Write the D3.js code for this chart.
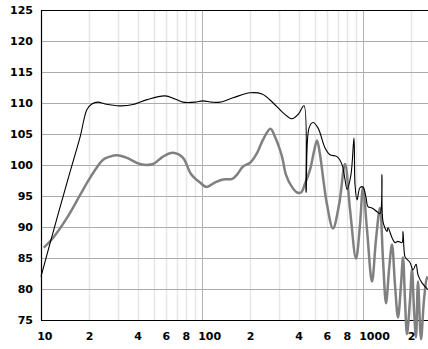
<!DOCTYPE html>
<html>
<head>
<meta charset="utf-8">
<script src="https://d3js.org/d3.v7.min.js"></script>
<style>
    body { margin: 0; background: #fff; }
    svg { display: block; }
    .lbl { font-family: "DejaVu Sans", Verdana, sans-serif; font-size: 11px; font-weight: bold; fill: #000; }
</style>
</head>
<body>
<svg id="chart" width="428" height="349"></svg>
<script>
    // y ticks (dB) and x tick labels
    const dbTicks = [75, 80, 85, 90, 95, 100, 105, 110, 115, 120, 125];
    const freqTicks = [10, 20, 40, 60, 80, 100, 200, 400, 600, 800, 1000, 2000];
    const freqLabels = ["10", "2", "4", "6", "8", "100", "2", "4", "6", "8", "1000", "2"];
    const gridFreqs = [20, 30, 40, 50, 60, 70, 80, 90, 200, 300, 400, 500, 600, 700, 800, 900, 2000];
    const decadeFreqs = [100, 1000];

    // black thin curve
    const upperFreq = [10, 12.4, 15.1, 17.5, 19.3, 20.7, 22.6, 25, 31, 37.3, 45.5, 58.9, 68, 76.2, 90.5,
        101, 115, 129, 156, 199, 236, 276, 318, 362, 395, 430, 443, 462, 489, 526,
        581, 624, 690, 741, 773, 796, 842, 879, 892, 918, 958, 1000, 1044, 1074, 1137,
        1222, 1275, 1312, 1331, 1410, 1430, 1514, 1580, 1650, 1747, 1772, 1823, 1876, 1959, 2045,
        2134, 2196, 2326, 2534];
    const upperDb = [82.0, 90.9, 98.8, 104.6, 109.0, 109.9, 110.2, 109.9, 109.6, 109.8, 110.6, 111.2, 110.7, 110.2, 110.2,
        110.4, 110.2, 110.2, 110.9, 111.7, 111.5, 110.1, 108.5, 107.5, 108.2, 109.6, 95.6, 106.0, 106.9, 106.0,
        102.8, 101.7, 101.4, 100.1, 97.7, 96.1, 98.5, 104.4, 96.9, 94.4, 96.4, 96.5, 94.8, 93.3, 93.1,
        92.5, 92.2, 98.5, 90.9, 89.3, 89.9, 88.3, 87.5, 87.7, 87.5, 89.3, 85.2, 84.8, 84.3, 83.1,
        84.0, 82.3, 81.0, 79.9];

    // gray thick curve
    const lowerFreq = [10.4, 11.9, 14.5, 17.5, 20.2, 24.3, 26.8, 29.7, 34.2, 41.2, 49.6, 57.3, 66, 76.2, 85.4,
        97.2, 107, 120, 135, 154, 165, 180, 199, 220, 239, 266, 284, 314, 332, 362,
        389, 412, 436, 469, 496, 518, 541, 565, 598, 651, 710, 773, 831, 905, 958,
        1000, 1059, 1137, 1204, 1275, 1331, 1390, 1451, 1514, 1580, 1650, 1722, 1772, 1823, 1876,
        1959, 2015, 2074, 2134, 2196, 2292, 2393, 2497, 2534];
    const lowerDb = [86.7, 88.3, 91.5, 95.2, 98.0, 100.9, 101.4, 101.6, 101.2, 100.2, 100.2, 101.4, 102.0, 101.2, 98.6,
        97.2, 96.5, 97.2, 97.7, 97.8, 98.5, 99.8, 100.4, 102.0, 104.1, 105.9, 104.6, 101.4, 98.5, 96.5,
        95.6, 95.6, 97.0, 99.3, 102.2, 104.0, 101.7, 98.0, 93.6, 89.8, 93.6, 100.2, 92.8, 84.9, 90.4,
        96.4, 89.6, 81.2, 88.0, 93.1, 84.8, 77.7, 83.1, 87.2, 80.7, 75.4, 80.7, 85.1, 78.3, 72.7,
        78.3, 83.1, 76.7, 72.2, 81.2, 71.9, 78.3, 81.9, 81.5];

    const svg = d3.select("#chart");
    const W = 428;
    const plotLeft = 41, plotTop = 10.5, plotBottom = 320;

    const x = d3.scaleLog().domain([10, 1000]).range([plotLeft, 363]);
    const y = d3.scaleLinear().domain([75, 125]).range([plotBottom, plotTop]);

    // grid
    svg.append("g").selectAll("line").data(gridFreqs).join("line")
        .attr("x1", d => Math.round(x(d)) + 0.5).attr("x2", d => Math.round(x(d)) + 0.5)
        .attr("y1", plotTop).attr("y2", plotBottom)
        .attr("stroke", "#e6e6e6").attr("stroke-width", 1.5);
    svg.append("g").selectAll("line").data(decadeFreqs).join("line")
        .attr("x1", d => Math.round(x(d)) + 0.5).attr("x2", d => Math.round(x(d)) + 0.5)
        .attr("y1", plotTop).attr("y2", plotBottom)
        .attr("stroke", "#b4b4b4").attr("stroke-width", 1);
    svg.append("g").selectAll("line").data(dbTicks.slice(1, -1)).join("line")
        .attr("x1", plotLeft).attr("x2", W)
        .attr("y1", d => Math.round(y(d)) + 0.5).attr("y2", d => Math.round(y(d)) + 0.5)
        .attr("stroke", "#ababab").attr("stroke-width", 1);

    // frame
    svg.append("line").attr("x1", plotLeft).attr("x2", W).attr("y1", plotTop).attr("y2", plotTop)
        .attr("stroke", "#000").attr("stroke-width", 1.2);
    svg.append("line").attr("x1", plotLeft).attr("x2", W).attr("y1", plotBottom + 0.5).attr("y2", plotBottom + 0.5)
        .attr("stroke", "#000").attr("stroke-width", 1.2);
    svg.append("line").attr("x1", plotLeft + 0.5).attr("x2", plotLeft + 0.5).attr("y1", plotTop).attr("y2", plotBottom)
        .attr("stroke", "#000").attr("stroke-width", 1.2);

    // curves
    const line = d3.line().x(d => x(d[0])).y(d => y(d[1])).curve(d3.curveCatmullRom.alpha(0.5));
    svg.append("path")
        .datum(d3.zip(lowerFreq, lowerDb))
        .attr("d", line)
        .attr("fill", "none").attr("stroke", "#808080").attr("stroke-width", 2.5)
        .attr("stroke-linejoin", "round");
    svg.append("path")
        .datum(d3.zip(upperFreq, upperDb))
        .attr("d", line)
        .attr("fill", "none").attr("stroke", "#000").attr("stroke-width", 1.1)
        .attr("stroke-linejoin", "round");

    // labels
    svg.append("g").selectAll("text").data(dbTicks).join("text")
        .attr("class", "lbl")
        .attr("x", 33).attr("y", d => y(d)).attr("dy", "0.36em")
        .attr("text-anchor", "end")
        .text(d => d);
    svg.append("g").selectAll("text").data(freqTicks).join("text")
        .attr("class", "lbl")
        .attr("x", d => x(d) - 3.8).attr("y", 340)
        .text((d, i) => freqLabels[i]);
</script>
</body>
</html>
